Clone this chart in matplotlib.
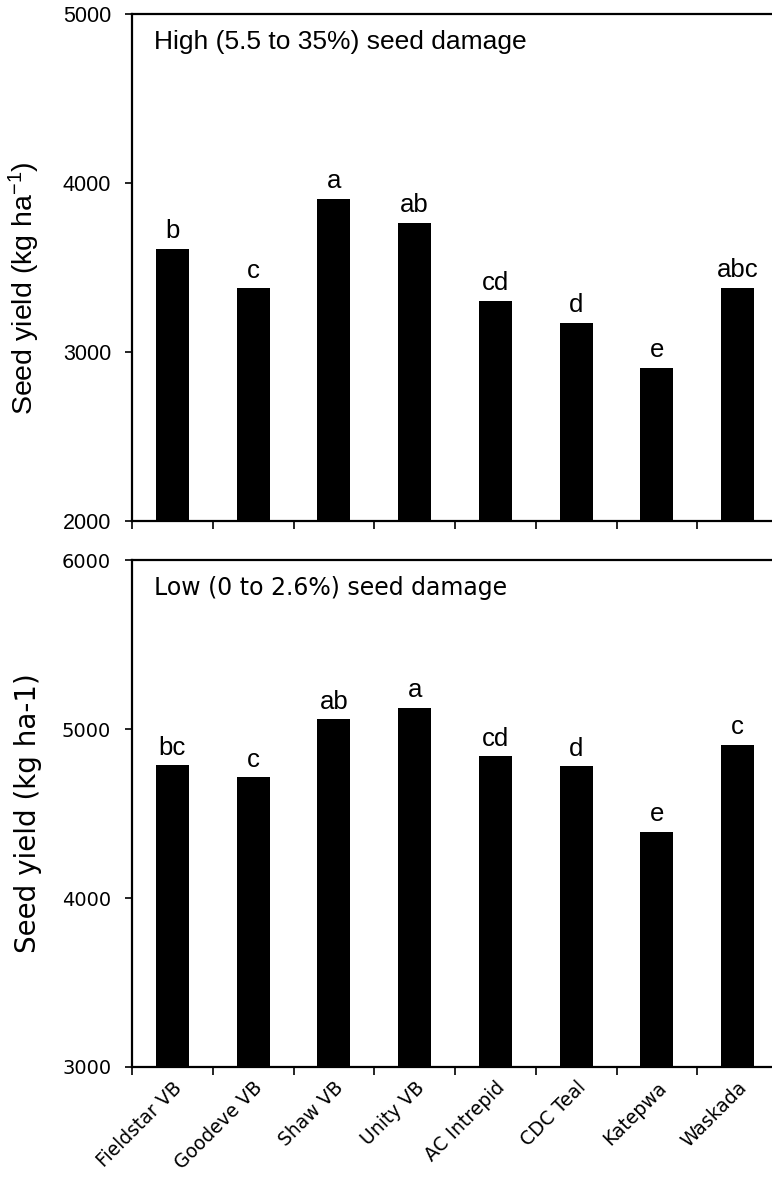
import matplotlib.pyplot as plt
import numpy as np

plt.rcParams["mathtext.fontset"] = "custom"
plt.rcParams["mathtext.rm"] = "Liberation Sans"
plt.rcParams["mathtext.it"] = "Liberation Sans:italic"

cultivars = ["Fieldstar VB", "Goodeve VB", "Shaw VB", "Unity VB", "AC Intrepid", "CDC Teal", "Katepwa", "Waskada"]

high_yield = [3610, 3378, 3905, 3763, 3302, 3172, 2905, 3380]
high_letters = ["b", "c", "a", "ab", "cd", "d", "e", "abc"]
high_ticks = [2000, 3000, 4000, 5000]

low_yield = [4786, 4714, 5058, 5125, 4838, 4780, 4392, 4905]
low_letters = ["bc", "c", "ab", "a", "cd", "d", "e", "c"]
low_ticks = [3000, 4000, 5000, 6000]

arial = "Liberation Sans"
tahoma = "DejaVu Sans"

fig = plt.figure(figsize=(7.72, 11.84), dpi=100)
ax1 = fig.add_axes([132/772, 1 - 521/1184, 646/772, 507/1184])
ax2 = fig.add_axes([132/772, 1 - 1067/1184, 646/772, 507/1184])

x = np.arange(len(cultivars))


def draw_panel(ax, values, letters, ticks, label, title, font, sizes, label_y, show_names):
    tick_size, title_size, label_size = sizes
    ax.bar(x, values, width=0.41, color="black")
    ax.set_xlim(-0.5, len(cultivars) - 0.5)
    ax.set_ylim(ticks[0], ticks[-1])
    ax.set_yticks(ticks)
    ax.yaxis.set_tick_params(which="major", direction="out", length=5, width=1.2,
                             pad=10, labelsize=tick_size)
    for t in ax.get_yticklabels():
        t.set_fontfamily(font)
    for i, v in enumerate(values):
        ax.annotate(letters[i], (x[i], v), xytext=(0, 4), textcoords="offset points",
                    ha="center", va="bottom", fontsize=18.5, family=arial)
    ax.text(0.034, 0.968, title, transform=ax.transAxes, ha="left", va="top",
            fontsize=title_size, family=font)
    ax.set_ylabel(label, fontsize=label_size, family=font)
    ax.yaxis.set_label_coords(-0.14, label_y)

    # category boundary ticks like the spreadsheet original
    ax.set_xticks(np.arange(-0.5, len(cultivars), 1.0), minor=True)
    ax.tick_params(axis="x", which="minor", direction="out", length=6, width=1.2)
    ax.tick_params(axis="x", which="major", length=0, pad=8)
    ax.set_xticks(x)
    if show_names:
        ax.set_xticklabels(cultivars, rotation=45, ha="right", rotation_mode="anchor",
                           fontsize=13.5, family=tahoma)
    else:
        ax.set_xticklabels([])
    for side in ["left", "top", "bottom"]:
        ax.spines[side].set_linewidth(1.6)
    ax.spines["right"].set_visible(False)


draw_panel(ax1, high_yield, high_letters, high_ticks,
           "Seed yield (kg ha$^{\\mathregular{-1}}$)", "High (5.5 to 35%) seed damage",
           arial, (15.5, 19, 20.5), 0.46, False)
draw_panel(ax2, low_yield, low_letters, low_ticks,
           "Seed yield (kg ha-1)", "Low (0 to 2.6%) seed damage",
           tahoma, (14, 17, 20), 0.5, True)

plt.savefig("out.png", dpi=100)
